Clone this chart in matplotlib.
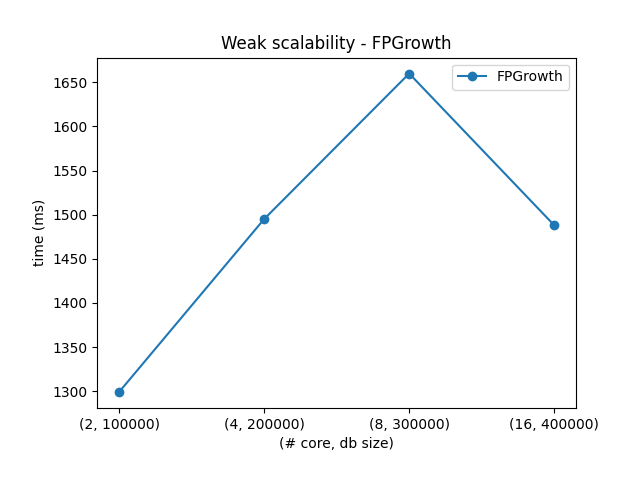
import matplotlib

matplotlib.use("Agg")

import matplotlib.pyplot as plt

configs = ["(2, 100000)", "(4, 200000)", "(8, 300000)", "(16, 400000)"]
times = [1299, 1495, 1660, 1488]

fig, ax = plt.subplots(figsize=(6.4, 4.8), dpi=100)
ax.plot(configs, times, marker="o", label="FPGrowth")
ax.set_title("Weak scalability - FPGrowth")
ax.set_xlabel("(# core, db size)")
ax.set_ylabel("time (ms)")
ax.legend()
fig.subplots_adjust(left=0.152, bottom=0.15)
fig.savefig("out.png")
